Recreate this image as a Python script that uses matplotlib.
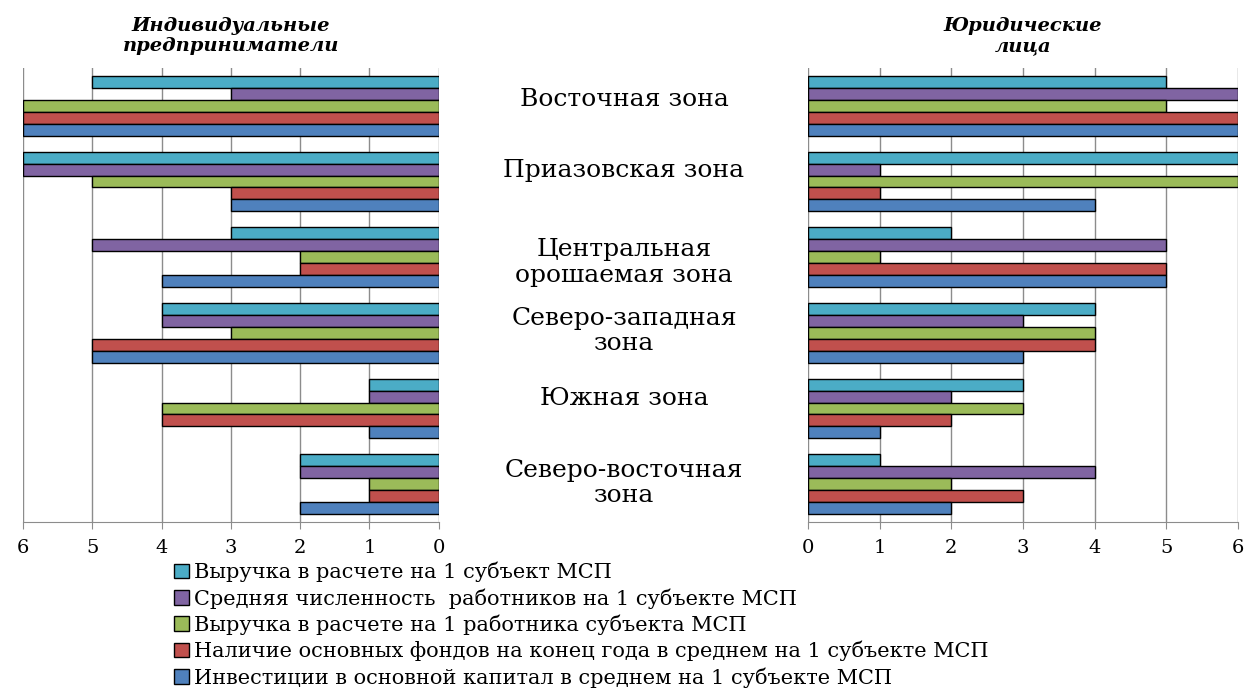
import numpy as np
import matplotlib.pyplot as plt
from matplotlib.transforms import blended_transform_factory
from matplotlib.patches import Patch

plt.rcParams['font.family'] = ['DejaVu Serif']

zones = ['Восточная зона', 'Приазовская зона', 'Центральная\nорошаемая зона',
         'Северо-западная\nзона', 'Южная зона', 'Северо-восточная\nзона']

series = ['Выручка в расчете на 1 субъект МСП',
          'Средняя численность  работников на 1 субъекте МСП',
          'Выручка в расчете на 1 работника субъекта МСП',
          'Наличие основных фондов на конец года в среднем на 1 субъекте МСП',
          'Инвестиции в основной капитал в среднем на 1 субъекте МСП']
colors = ['#4BACC6', '#8064A2', '#9BBB59', '#C0504D', '#4F81BD']

# values per zone, series order as above
ip = [[5, 3, 6, 6, 6],
      [6, 6, 5, 3, 3],
      [3, 5, 2, 2, 4],
      [4, 4, 3, 5, 5],
      [1, 1, 4, 4, 1],
      [2, 2, 1, 1, 2]]
ul = [[5, 6, 5, 6, 6],
      [6, 1, 6, 1, 4],
      [2, 5, 1, 5, 5],
      [4, 3, 4, 4, 3],
      [3, 2, 3, 2, 1],
      [1, 4, 2, 3, 2]]

fig = plt.figure(figsize=(12.46, 6.91), dpi=100)
ax1 = fig.add_axes([0.0185, 0.2446, 0.3335, 0.657])
ax2 = fig.add_axes([0.6485, 0.2446, 0.3451, 0.657])

n = len(zones)
h = 0.158
y = np.arange(n)

def draw(ax, data):
    data = np.array(data)
    for j in range(len(series)):
        pos = y - 2 * h + j * h
        ax.barh(pos, data[:, j], height=h, color=colors[j], edgecolor='black',
                linewidth=1.0, zorder=3)
    ax.set_ylim(n - 0.5, -0.5)
    ax.set_xticks(range(7))
    ax.set_yticks([])
    ax.grid(axis='x', color='#8c8c8c', linewidth=1.0, zorder=0)
    for s in ['top', 'left', 'right']:
        ax.spines[s].set_visible(False)
    ax.spines['bottom'].set_color('#8c8c8c')
    ax.tick_params(axis='x', direction='out', length=5, color='#8c8c8c',
                   labelsize=14, pad=7)

draw(ax1, ip)
ax1.set_xlim(6, 0)
draw(ax2, ul)
ax2.set_xlim(0, 6)

ax1.set_title('Индивидуальные\nпредприниматели', fontsize=14, fontweight='bold',
              fontstyle='italic', linespacing=1.15, pad=12)
ax2.set_title('Юридические\nлица', fontsize=14, fontweight='bold',
              fontstyle='italic', linespacing=1.15, pad=12)

# zone labels sit slightly off the group centres, as in the original
label_shift = [-0.08, -0.145, 0.07, -0.02, -0.13, -0.01]
tr = blended_transform_factory(fig.transFigure, ax2.transData)
for i, z in enumerate(zones):
    ax2.text(0.5008, i + label_shift[i], z, transform=tr, ha='center',
             va='center', fontsize=18, linespacing=1.12)

handles = [Patch(facecolor=c, edgecolor='black', linewidth=1.0) for c in colors]
fig.legend(handles, series, loc='upper left', bbox_to_anchor=(0.133, 0.199),
           frameon=False, fontsize=15, handlelength=0.7, handleheight=0.7,
           handletextpad=0.25, labelspacing=0.28, borderaxespad=0)

fig.savefig('out.png', dpi=100)
